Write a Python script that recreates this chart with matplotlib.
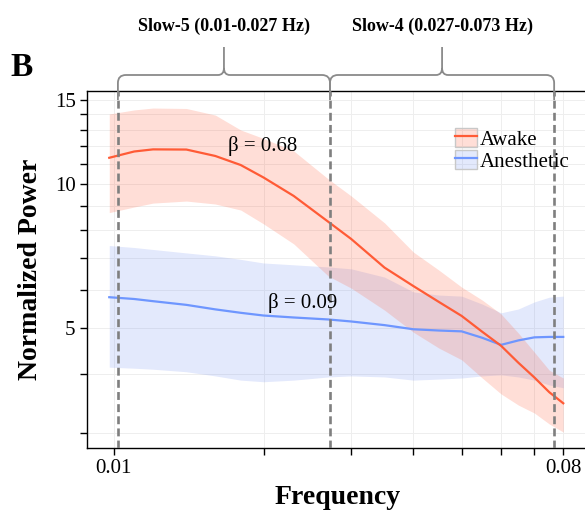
import matplotlib
matplotlib.use("Agg")
import matplotlib.pyplot as plt
from matplotlib.path import Path
from matplotlib.patches import PathPatch, Patch
from matplotlib.lines import Line2D
from matplotlib.ticker import NullLocator
import numpy as np

plt.rcParams['font.family'] = ['Liberation Serif', 'DejaVu Serif']

# ---------------- data ----------------
freq = [0.0098, 0.011, 0.012, 0.014, 0.016, 0.018, 0.020, 0.023, 0.027, 0.030,
        0.035, 0.040, 0.045, 0.050, 0.055, 0.060, 0.065, 0.070, 0.075, 0.080]

awake_mean = [11.35, 11.70, 11.82, 11.81, 11.45, 10.96, 10.32, 9.44, 8.33, 7.67,
              6.68, 6.11, 5.66, 5.29, 4.90, 4.58, 4.22, 3.93, 3.66, 3.47]
awake_hi = [14.02, 14.30, 14.43, 14.40, 13.95, 12.98, 12.46, 11.73, 10.24, 9.44,
            8.29, 7.20, 6.60, 6.08, 5.71, 5.34, 4.87, 4.44, 4.07, 3.92]
awake_lo = [8.71, 8.95, 9.12, 9.21, 9.08, 8.82, 8.25, 7.49, 6.41, 6.05,
            5.44, 4.89, 4.53, 4.28, 3.92, 3.63, 3.44, 3.31, 3.14, 3.02]

anest_mean = [5.79, 5.74, 5.68, 5.58, 5.46, 5.37, 5.30, 5.25, 5.20, 5.15,
              5.06, 4.96, 4.93, 4.91, 4.76, 4.60, 4.70, 4.77, 4.78, 4.78]
anest_hi = [7.43, 7.36, 7.29, 7.17, 7.07, 6.95, 6.83, 6.77, 6.70, 6.64,
            6.38, 5.94, 5.85, 5.82, 5.60, 5.37, 5.47, 5.66, 5.79, 5.82]
anest_lo = [4.13, 4.11, 4.09, 4.04, 3.96, 3.88, 3.85, 3.88, 3.94, 3.96,
            3.94, 3.88, 3.90, 3.92, 3.96, 3.98, 3.94, 3.88, 3.79, 3.74]

series_names = ['Awake', 'Anesthetic']
band_edges = [0.0102, 0.0272, 0.0767]
band_labels = ['Slow-5 (0.01-0.027 Hz)', 'Slow-4 (0.027-0.073 Hz)']
beta_labels = ['β = 0.68', 'β = 0.09']
beta_pos = [(0.0199, 12.0), (0.0240, 5.63)]

xticks = [0.01, 0.02, 0.03, 0.04, 0.05, 0.06, 0.07, 0.08]
xticklabels = ['0.01', '', '', '', '', '', '', '0.08']
yticks = [3, 4, 5, 6, 7, 8, 9, 10, 11, 12, 13, 14, 15]
yticklabels = ['', '', '5', '', '', '', '', '10', '', '', '', '', '15']

# ---------------- style ----------------
W, H = 585, 511
awake_c = '#FF5B36'
anest_c = '#6E96FF'
awake_fill = (1.0, 0.36, 0.22, 0.20)
anest_fill = (0.40, 0.52, 0.95, 0.18)

fig = plt.figure(figsize=(W / 100, H / 100), dpi=100)
left_px, right_px, top_px, bot_px = 86.7, 588.0, 91.5, 448.0
ax = fig.add_axes([left_px / W, 1 - bot_px / H, (right_px - left_px) / W, (bot_px - top_px) / H])

ax.set_xscale('log')
ax.set_yscale('log')
ax.set_xlim(0.008829, 0.0897)
ax.set_ylim(2.796, 15.63)

ax.fill_between(freq, anest_lo, anest_hi, color=anest_fill, lw=0, zorder=2)
ax.fill_between(freq, awake_lo, awake_hi, color=awake_fill, lw=0, zorder=2)
ax.plot(freq, anest_mean, color=anest_c, lw=1.6, zorder=3)
ax.plot(freq, awake_mean, color=awake_c, lw=1.6, zorder=3)

for b in band_edges:
    ax.axvline(b, color='#7f7f7f', lw=1.9, ls=(0, (3, 1.6)), zorder=4)

for (x, y), t in zip(beta_pos, beta_labels):
    ax.text(x, y, t, fontsize=15, ha='center', va='center', zorder=5)

ax.set_xticks(xticks)
ax.set_xticklabels(xticklabels)
ax.set_yticks(yticks)
ax.set_yticklabels(yticklabels)
ax.xaxis.set_minor_locator(NullLocator())
ax.yaxis.set_minor_locator(NullLocator())
ax.tick_params(axis='both', which='major', direction='out', length=5, width=1,
               labelsize=15, colors='black', pad=3)
ax.grid(True, color='#EEEEEE', lw=0.7, zorder=0)
ax.set_axisbelow(True)
for s in ax.spines.values():
    s.set_color('black')
    s.set_linewidth(1.0)

ax.set_xlabel('Frequency', fontsize=20, fontweight='bold')
ax.set_ylabel('Normalized Power', fontsize=20, fontweight='bold')
ax.xaxis.set_label_coords(0.5, -0.105)
ax.yaxis.set_label_coords(-0.088, 0.5)

# legend
handles = [(Patch(facecolor=awake_fill, edgecolor='#c8c8c8', lw=1.0), Line2D([], [], color=awake_c, lw=1.6)),
           (Patch(facecolor=anest_fill, edgecolor='#c8c8c8', lw=1.0), Line2D([], [], color=anest_c, lw=1.6))]
fig.legend(handles, series_names, loc='upper left', bbox_to_anchor=(455 / W, 1 - 128 / H),
           bbox_transform=fig.transFigure, frameon=False, fontsize=15, borderpad=0,
           handlelength=1.05, handleheight=1.05, handletextpad=0.12, labelspacing=0.0,
           borderaxespad=0)

# overlay for braces
ov = fig.add_axes([0, 0, 1, 1], zorder=10)
ov.set_xlim(0, W)
ov.set_ylim(H, 0)
ov.axis('off')
ov.patch.set_alpha(0)

edge_px = [ax.transData.transform((b, 5))[0] for b in band_edges]

def brace(x1, x2, yb=100, yh=75, yp=47, r=8):
    xm = (x1 + x2) / 2
    verts = [(x1, yb), (x1, yh + r),
             (x1, yh), (x1 + r, yh),
             (xm - 6, yh),
             (xm, yh), (xm, yh - 7),
             (xm, yp),
             (xm, yh - 7),
             (xm, yh), (xm + 6, yh),
             (x2 - r, yh),
             (x2, yh), (x2, yh + r),
             (x2, yb)]
    codes = [Path.MOVETO, Path.LINETO,
             Path.CURVE3, Path.CURVE3,
             Path.LINETO,
             Path.CURVE3, Path.CURVE3,
             Path.LINETO,
             Path.MOVETO,
             Path.CURVE3, Path.CURVE3,
             Path.LINETO,
             Path.CURVE3, Path.CURVE3,
             Path.LINETO]
    ov.add_patch(PathPatch(Path(verts, codes), fill=False, edgecolor='#8a8a8a', lw=1.3))
    return xm

for i, lab in enumerate(band_labels):
    xm = brace(edge_px[i], edge_px[i + 1])
    ov.text(xm, 26, lab, fontsize=13, fontweight='bold', ha='center', va='center')

ov.text(10, 68, 'B', fontsize=24, fontweight='bold', ha='left', va='center')

fig.savefig('out.png', dpi=100)
